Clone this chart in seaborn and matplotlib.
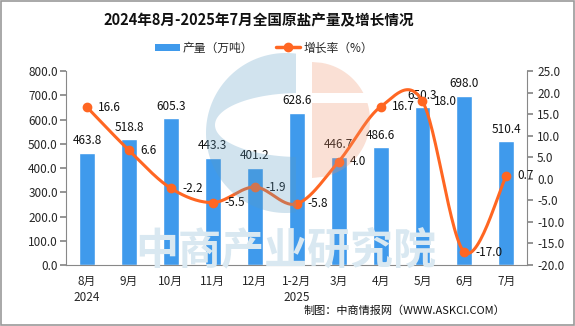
import numpy as np
import pandas as pd
import matplotlib
matplotlib.use("Agg")
import matplotlib.pyplot as plt
import seaborn as sns
from matplotlib.lines import Line2D
from matplotlib.patches import Patch, Rectangle, Polygon

categories = ["8月\n2024", "9月", "10月", "11月", "12月", "1-2月\n2025", "3月", "4月", "5月", "6月", "7月"]
production = [463.8, 518.8, 605.3, 443.3, 401.2, 628.6, 446.7, 486.6, 650.3, 698.0, 510.4]
growth = [16.6, 6.6, -2.2, -5.5, -1.9, -5.8, 4.0, 16.7, 18.0, -17.0, 0.7]

sns.set_theme(style="white")
plt.rcParams["font.family"] = ["Noto Sans CJK SC", "DejaVu Sans"]
plt.rcParams["axes.unicode_minus"] = False

BAR = "#3F9AEC"
LINE = "#FF6622"
FS = 8.5

fig = plt.figure(figsize=(5.75, 3.26), dpi=100)

# faint watermark text (behind the chart)
fig.text(0.497, 0.232, "中商产业研究院", fontsize=31, color="#D9E8F1",
         ha="center", va="center", fontweight="bold", zorder=0)

ax = fig.add_axes([0.115, 0.187, 0.802, 0.595])
ax.patch.set_alpha(0)

df = pd.DataFrame({"cat": categories, "val": production})
sns.barplot(data=df, x="cat", y="val", color=BAR, saturation=1, width=0.38, ax=ax, zorder=2)
ax.set_xlabel("")
ax.set_ylabel("")
ax.set_ylim(0, 800)
ax.set_yticks(np.arange(0, 801, 100))
ax.set_yticklabels([f"{v:.1f}" for v in np.arange(0, 801, 100)], fontsize=FS)
ax.set_xlim(-0.5, len(categories) - 0.5)
ax.set_xticks(range(len(categories)))
ax.set_xticklabels(categories, fontsize=FS, linespacing=1.3)
ax.tick_params(axis="x", length=0, pad=7)
ax.set_xticks(np.arange(-0.5, len(categories), 1), minor=True)
ax.tick_params(axis="x", which="minor", length=4, color="#888888", direction="out")
ax.tick_params(axis="y", length=4, color="#888888", direction="out", pad=2, left=True)
for s in ["top", "right"]:
    ax.spines[s].set_visible(False)
for s in ["left", "bottom"]:
    ax.spines[s].set_color("#888888")
    ax.spines[s].set_linewidth(0.8)

for i, v in enumerate(production):
    ax.annotate(f"{v:.1f}", (i, v), xytext=(0, 4), textcoords="offset points",
                ha="center", va="bottom", fontsize=FS, color="#111111", zorder=5)

ax2 = ax.twinx()
ax2.set_ylim(-20, 25)
ax2.set_yticks(np.arange(-20, 26, 5))
ax2.set_yticklabels([f"{v:.1f}" for v in np.arange(-20, 26, 5)], fontsize=FS)
ax2.tick_params(axis="y", length=4, color="#888888", direction="out", pad=3, right=True)
for s in ["top", "left", "bottom"]:
    ax2.spines[s].set_visible(False)
ax2.spines["right"].set_color("#888888")
ax2.spines["right"].set_linewidth(0.8)

# smooth rendering of the line through the data points (Bezier, Excel-like smoothing)
x = np.arange(len(growth), dtype=float)
y = np.array(growth, dtype=float)
px = np.concatenate([[x[0]], x, [x[-1]]])
py = np.concatenate([[y[0]], y, [y[-1]]])
cx, cy = [], []
t = np.linspace(0, 1, 30)
for i in range(1, len(px) - 2):
    p0 = np.array([px[i-1], py[i-1]]); p1 = np.array([px[i], py[i]])
    p2 = np.array([px[i+1], py[i+1]]); p3 = np.array([px[i+2], py[i+2]])
    c1 = p1 + (p2 - p0) / 6
    c2 = p2 - (p3 - p1) / 6
    for tt in t:
        b = (1-tt)**3*p1 + 3*(1-tt)**2*tt*c1 + 3*(1-tt)*tt**2*c2 + tt**3*p2
        cx.append(b[0]); cy.append(b[1])
ax2.plot(cx, cy, color=LINE, lw=2.2, zorder=3, solid_capstyle="round")
ax2.plot(x, y, "o", color=LINE, ms=6, zorder=4)
for i, v in enumerate(growth):
    ax2.annotate(f"{v:.1f}", (i, v), xytext=(8, 0), textcoords="offset points",
                 ha="left", va="center", fontsize=FS, color="#111111", zorder=5)

# translucent logo overlay (pixel coordinates, y downwards)
ov = fig.add_axes([0, 0, 1, 1], zorder=10)
ov.set_xlim(0, 575); ov.set_ylim(326, 0); ov.axis("off"); ov.patch.set_alpha(0)
ccx, ccy, R = 286, 133, 80
ecx, ecy, ea, eb = 300, 125, 85, 32
xcut = 296
th = np.linspace(np.arccos((xcut-ccx)/R), 2*np.pi - np.arccos((xcut-ccx)/R), 150)
outer = [(ccx + R*np.cos(a), ccy - R*np.sin(a)) for a in th]
te = np.arccos((xcut-ecx)/ea)
th2 = np.linspace(2*np.pi - te, te, 150)
inner = [(ecx + ea*np.cos(a), ecy - eb*np.sin(a)) for a in th2]
ov.add_patch(Polygon(outer + inner, closed=True, facecolor="#5A9BC3", edgecolor="none", alpha=0.28))
ox, oy, orr = 312, 120, 58
ys = np.linspace(oy - orr, 93, 40)
top_piece = [(ox, 93), (ox, oy - orr)] + [(ox + np.sqrt(max(orr**2 - (yy-oy)**2, 0)), yy) for yy in ys]
ys2 = np.linspace(103, oy + orr, 60)
bot_piece = [(ox, oy + orr), (ox, 103)] + [(ox + np.sqrt(max(orr**2 - (yy-oy)**2, 0)), yy) for yy in ys2]
for pc in (top_piece, bot_piece):
    ov.add_patch(Polygon(pc, closed=True, facecolor="#EE9169", edgecolor="none", alpha=0.28))

fig.text(0.45, 0.937, "2024年8月-2025年7月全国原盐产量及增长情况", ha="center", va="center",
         fontsize=10.5, fontweight="bold", color="#111111", zorder=20)

handles = [Patch(facecolor=BAR, edgecolor="none"),
           Line2D([0], [0], color=LINE, lw=2.5, marker="o", ms=6)]
fig.legend(handles, ["产量（万吨）", "增长率（%）"], loc="center", bbox_to_anchor=(0.459, 0.853),
           ncol=2, frameon=False, fontsize=FS, handlelength=2.1, handleheight=0.6,
           columnspacing=1.9, handletextpad=0.25)

fig.text(0.879, 0.048, "制图：中商情报网（WWW.ASKCI.COM）", ha="right", va="center", fontsize=8, color="#111111")

fig.patches.append(Rectangle((0.001, 0.002), 0.997, 0.995, transform=fig.transFigure,
                             fill=False, edgecolor="#999999", lw=1.2))

fig.savefig("out.png", dpi=100)
